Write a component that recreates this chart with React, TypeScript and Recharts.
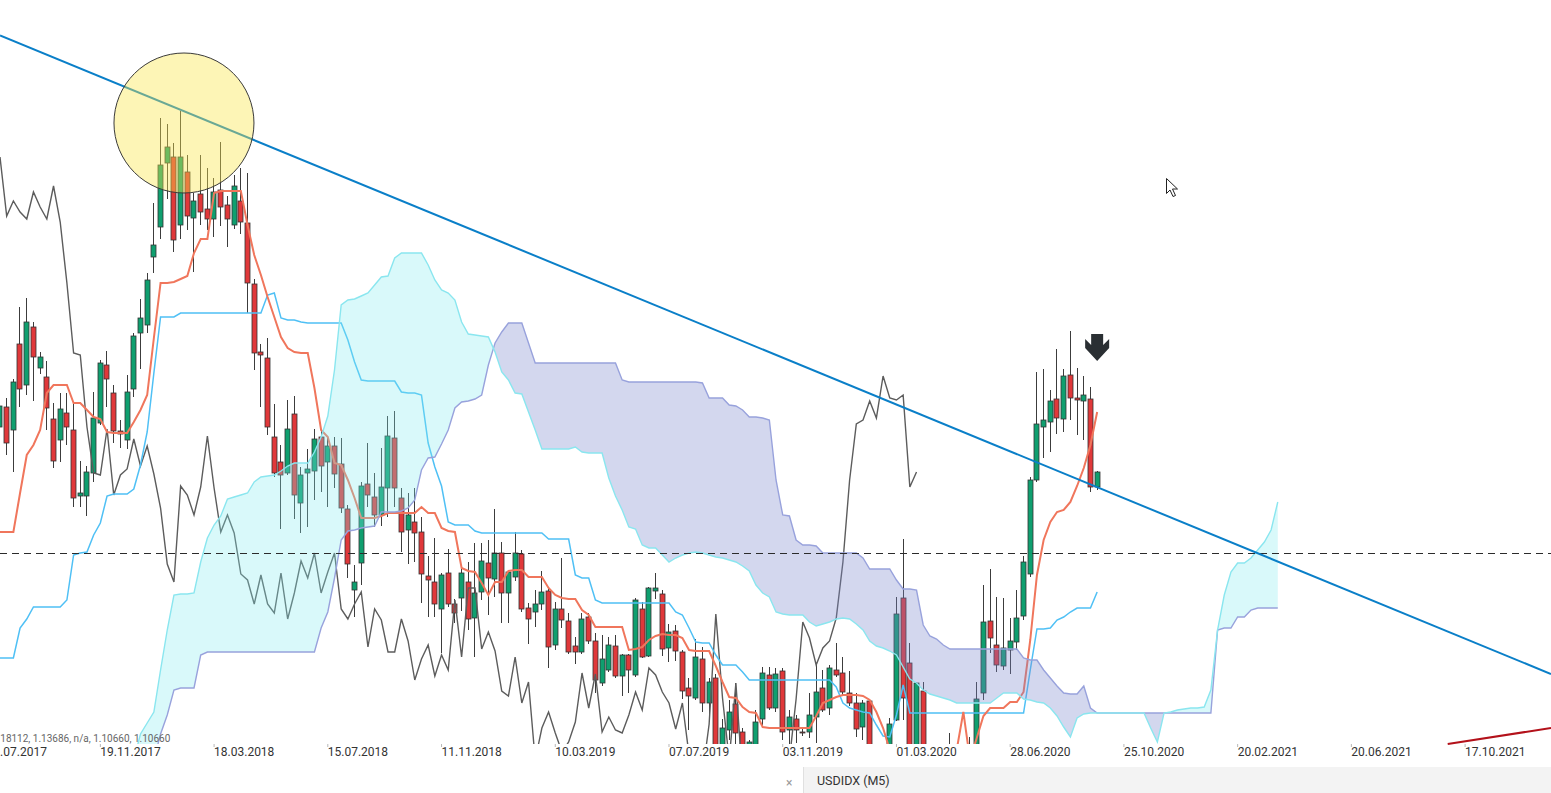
import React from "react";
import {
  ComposedChart,
  Bar,
  Line,
  Area,
  XAxis,
  YAxis,
  ReferenceLine,
  ReferenceDot,
} from "recharts";

// ---------------- data ----------------
// weekly candles [open, high, low, close]; week 0 = 06.08.2017
const OHLC: [number, number, number, number][] = [
  [1.1573, 1.1603, 1.1539, 1.1594], [1.1593, 1.1602, 1.1545, 1.1557], [1.157, 1.1621, 1.1528, 1.1618], [1.1656, 1.1693, 1.1593, 1.1611], [1.1615, 1.1702, 1.1605, 1.1678],
  [1.1673, 1.1678, 1.1599, 1.1643], [1.1632, 1.1648, 1.1626, 1.1643], [1.1623, 1.1639, 1.157, 1.1592], [1.1581, 1.1597, 1.1532, 1.1539], [1.156, 1.1607, 1.1538, 1.1591],
  [1.1587, 1.1607, 1.1555, 1.1573], [1.157, 1.1597, 1.1493, 1.1502], [1.1504, 1.1539, 1.1493, 1.1507], [1.1504, 1.1534, 1.1484, 1.1528], [1.1527, 1.1608, 1.1518, 1.1582],
  [1.1577, 1.164, 1.1575, 1.1637], [1.1635, 1.1649, 1.1593, 1.1621], [1.1607, 1.1615, 1.1557, 1.1569], [1.1569, 1.158, 1.1552, 1.1566], [1.156, 1.1625, 1.1551, 1.1608],
  [1.1611, 1.1667, 1.1603, 1.1664], [1.1667, 1.1701, 1.1631, 1.1682], [1.1675, 1.1727, 1.1667, 1.172], [1.1743, 1.1797, 1.1727, 1.1755], [1.1773, 1.1882, 1.1761, 1.1835],
  [1.1837, 1.1876, 1.1801, 1.1853], [1.1843, 1.1857, 1.1748, 1.176], [1.1775, 1.1889, 1.1761, 1.1843], [1.1828, 1.1845, 1.177, 1.1784], [1.1782, 1.1807, 1.1728, 1.1799],
  [1.1806, 1.1845, 1.1775, 1.1788], [1.1791, 1.1832, 1.177, 1.1781], [1.1781, 1.1822, 1.1763, 1.1808], [1.181, 1.1858, 1.1774, 1.1793], [1.1795, 1.1804, 1.1753, 1.1781],
  [1.1775, 1.1825, 1.1771, 1.1814], [1.1799, 1.1832, 1.1766, 1.1778], [1.1777, 1.1827, 1.1687, 1.1717], [1.1716, 1.1721, 1.163, 1.1647], [1.1648, 1.1656, 1.1593, 1.1645],
  [1.1642, 1.1662, 1.1565, 1.1573], [1.1563, 1.1596, 1.1523, 1.1527], [1.1538, 1.1555, 1.1471, 1.1525], [1.1527, 1.16, 1.1525, 1.1571], [1.1586, 1.1604, 1.1481, 1.1505],
  [1.1497, 1.1533, 1.1467, 1.1525], [1.1527, 1.1551, 1.1473, 1.1531], [1.1529, 1.1571, 1.15, 1.1561], [1.1563, 1.1571, 1.1508, 1.1534], [1.1538, 1.1563, 1.1493, 1.1554],
  [1.1554, 1.1563, 1.1512, 1.1526], [1.1536, 1.1562, 1.1487, 1.1492], [1.1491, 1.1495, 1.1422, 1.1436], [1.141, 1.1435, 1.1383, 1.1418], [1.1437, 1.1518, 1.1415, 1.1514],
  [1.1516, 1.1557, 1.1493, 1.1505], [1.1503, 1.1527, 1.1473, 1.1485], [1.1485, 1.1552, 1.1474, 1.1513], [1.1512, 1.1584, 1.1483, 1.1564], [1.1562, 1.1589, 1.1493, 1.1512],
  [1.1502, 1.1512, 1.1448, 1.1468], [1.147, 1.1507, 1.1436, 1.1485], [1.1478, 1.1512, 1.1438, 1.1467], [1.1468, 1.1483, 1.1397, 1.1426], [1.1424, 1.1444, 1.1383, 1.142],
  [1.1418, 1.1462, 1.1383, 1.1396], [1.1391, 1.1427, 1.1347, 1.1425], [1.1427, 1.1451, 1.1393, 1.1396], [1.1396, 1.1401, 1.1377, 1.1387], [1.1402, 1.1432, 1.1389, 1.1427],
  [1.1418, 1.1438, 1.137, 1.1381], [1.1382, 1.1457, 1.1343, 1.1407], [1.1408, 1.1457, 1.14, 1.1439], [1.1437, 1.146, 1.1385, 1.1422], [1.1421, 1.1491, 1.1403, 1.1447],
  [1.1447, 1.1458, 1.1377, 1.1407], [1.1407, 1.143, 1.1377, 1.1428], [1.1423, 1.1468, 1.1419, 1.1447], [1.1446, 1.145, 1.1388, 1.1391], [1.1392, 1.1397, 1.1356, 1.1381],
  [1.1388, 1.141, 1.1373, 1.1396], [1.1396, 1.1429, 1.139, 1.1408], [1.1409, 1.1413, 1.1332, 1.1353], [1.1355, 1.1398, 1.135, 1.1391], [1.1391, 1.1442, 1.1372, 1.138],
  [1.1379, 1.1387, 1.1346, 1.1348], [1.1354, 1.1363, 1.1336, 1.1348], [1.1348, 1.1387, 1.1346, 1.1381], [1.1383, 1.1387, 1.1356, 1.1359], [1.1359, 1.1367, 1.1307, 1.132],
  [1.1317, 1.1365, 1.1314, 1.1341], [1.133, 1.1363, 1.1328, 1.1355], [1.1354, 1.1365, 1.1322, 1.1324], [1.1324, 1.1346, 1.1304, 1.1345], [1.1345, 1.1346, 1.1307, 1.133],
  [1.1325, 1.1402, 1.1323, 1.14], [1.1391, 1.1398, 1.1342, 1.1343], [1.1344, 1.1413, 1.1343, 1.1412], [1.1409, 1.1427, 1.1401, 1.1412], [1.1406, 1.141, 1.1344, 1.1351],
  [1.1352, 1.1376, 1.1338, 1.1368], [1.1369, 1.1375, 1.1339, 1.1349], [1.1348, 1.135, 1.1301, 1.1309], [1.1312, 1.1322, 1.127, 1.1304], [1.1302, 1.1361, 1.13, 1.1343],
  [1.1341, 1.1353, 1.1288, 1.1297], [1.1297, 1.1322, 1.1282, 1.1318], [1.1322, 1.1326, 1.1225, 1.124], [1.1248, 1.1281, 1.1235, 1.1272], [1.127, 1.13, 1.126, 1.1288],
  [1.1296, 1.1317, 1.1252, 1.1267], [1.1268, 1.1272, 1.1235, 1.1248], [1.1245, 1.126, 1.123, 1.1258], [1.125, 1.129, 1.124, 1.1278], [1.1281, 1.1333, 1.1275, 1.1327],
  [1.1325, 1.1333, 1.129, 1.1292], [1.1292, 1.1332, 1.1288, 1.1326], [1.1329, 1.1332, 1.126, 1.1268], [1.127, 1.129, 1.1252, 1.1283], [1.1281, 1.1285, 1.1257, 1.127],
  [1.1268, 1.1272, 1.1264, 1.1267], [1.1268, 1.1307, 1.1262, 1.1285], [1.1283, 1.1335, 1.1257, 1.1308], [1.1312, 1.133, 1.1288, 1.129], [1.1292, 1.1335, 1.1285, 1.1332],
  [1.133, 1.1357, 1.1323, 1.1325], [1.1327, 1.1343, 1.1304, 1.1308], [1.1307, 1.1329, 1.1294, 1.1297], [1.1297, 1.1307, 1.1263, 1.1271], [1.1273, 1.13, 1.126, 1.1297],
  [1.1299, 1.13, 1.124, 1.1245], [1.123, 1.124, 1.12, 1.1215], [1.121, 1.1235, 1.119, 1.1225], [1.125, 1.1282, 1.124, 1.1276], [1.128, 1.1403, 1.1279, 1.1386],
  [1.1402, 1.1461, 1.128, 1.1302], [1.1337, 1.1357, 1.123, 1.124], [1.124, 1.1318, 1.1225, 1.1317], [1.1309, 1.1318, 1.121, 1.122], [1.122, 1.123, 1.117, 1.119],
  [1.119, 1.121, 1.115, 1.117], [1.117, 1.12, 1.114, 1.12], [1.12, 1.1267, 1.118, 1.121], [1.121, 1.123, 1.118, 1.12], [1.12, 1.123, 1.118, 1.122],
  [1.122, 1.1263, 1.121, 1.124], [1.124, 1.1318, 1.123, 1.1301], [1.1307, 1.1415, 1.13, 1.1378], [1.1379, 1.1431, 1.1347, 1.1362], [1.1355, 1.1403, 1.1328, 1.1335],
  [1.1334, 1.1402, 1.133, 1.1352], [1.135, 1.1382, 1.1326, 1.1359], [1.1358, 1.141, 1.135, 1.1382], [1.1384, 1.1444, 1.138, 1.1438], [1.1426, 1.1523, 1.1423, 1.152],
  [1.152, 1.1628, 1.1518, 1.1576], [1.1573, 1.1631, 1.1542, 1.158], [1.1578, 1.161, 1.1548, 1.1599], [1.1601, 1.1651, 1.1566, 1.1582], [1.1581, 1.1631, 1.1568, 1.1624],
  [1.1625, 1.1669, 1.158, 1.1602], [1.1602, 1.1632, 1.1565, 1.16], [1.1599, 1.1624, 1.156, 1.1605], [1.1601, 1.1613, 1.1508, 1.1513], [1.1513, 1.1529, 1.151, 1.1528],
];

// Tenkan-sen (conversion line), one value per candle
const TENKAN = [
  1.1468, 1.1468, 1.1468, 1.1507, 1.1545, 1.1555, 1.157, 1.1607, 1.1615, 1.1615,
  1.1615, 1.1597, 1.1597, 1.159, 1.1583, 1.1581, 1.1568, 1.1567, 1.1567, 1.1567,
  1.1578, 1.159, 1.1605, 1.1662, 1.1717, 1.1717, 1.1718, 1.1721, 1.1724, 1.1747,
  1.1761, 1.1761, 1.1807, 1.1809, 1.1809, 1.1809, 1.1809, 1.1775, 1.1745, 1.1725,
  1.1703, 1.1683, 1.1663, 1.1652, 1.1648, 1.1647, 1.1647, 1.1612, 1.157, 1.1563,
  1.1537, 1.1535, 1.152, 1.1502, 1.1482, 1.1482, 1.1482, 1.1484, 1.1487, 1.1487,
  1.1487, 1.1487, 1.1487, 1.1493, 1.1487, 1.1487, 1.1472, 1.1469, 1.1468, 1.1432,
  1.1429, 1.1428, 1.1417, 1.1405, 1.1418, 1.1418, 1.1429, 1.143, 1.143, 1.1423,
  1.1423, 1.1423, 1.1412, 1.1405, 1.1402, 1.1401, 1.1401, 1.139, 1.1385, 1.1373,
  1.1373, 1.1373, 1.1373, 1.1373, 1.135, 1.1351, 1.1353, 1.136, 1.1364, 1.1366,
  1.1365, 1.1365, 1.1362, 1.135, 1.1349, 1.1349, 1.1349, 1.1334, 1.1318, 1.1303,
  1.1302, 1.1293, 1.1288, 1.1287, 1.1273, 1.1272, 1.1272, 1.1272, 1.1272, 1.1272,
  1.1272, 1.1272, 1.1284, 1.1297, 1.13, 1.1303, 1.1305, 1.1305, 1.1305, 1.1304,
  1.13, 1.1288, 1.1272, 1.125, 1.123, 1.122, 1.121, 1.12, 1.12, 1.12,
  1.12, 1.121, 1.122, 1.125, 1.1288, 1.124, 1.1262, 1.1284, 1.1292, 1.1292,
  1.1292, 1.1298, 1.1298, 1.1308, 1.136, 1.1425, 1.146, 1.1478, 1.1488, 1.149,
  1.1498, 1.1514, 1.1532, 1.1555, 1.1588,
];

// Kijun-sen (base line)
const KIJUN = [
  1.1342, 1.1342, 1.1342, 1.1372, 1.1381, 1.1393, 1.1393, 1.1393, 1.1393, 1.1393,
  1.14, 1.1445, 1.1447, 1.1448, 1.1465, 1.1477, 1.1504, 1.1506, 1.1506, 1.1506,
  1.1511, 1.1535, 1.1568, 1.1627, 1.1683, 1.1683, 1.1683, 1.1687, 1.1687, 1.1687,
  1.1687, 1.1687, 1.1687, 1.1687, 1.1687, 1.1687, 1.1687, 1.1687, 1.1687, 1.1687,
  1.1705, 1.1707, 1.1682, 1.168, 1.168, 1.1678, 1.1677, 1.1677, 1.1677, 1.1677,
  1.1677, 1.1677, 1.166, 1.1638, 1.162, 1.1619, 1.1619, 1.1619, 1.1619, 1.1619,
  1.1608, 1.1607, 1.1607, 1.1605, 1.1557, 1.1533, 1.1514, 1.1478, 1.1475, 1.1475,
  1.1475, 1.1469, 1.1467, 1.1467, 1.1467, 1.1467, 1.1467, 1.1467, 1.1467, 1.1467,
  1.1467, 1.1467, 1.1461, 1.1461, 1.1461, 1.1461, 1.1425, 1.1422, 1.1422, 1.14,
  1.1397, 1.1397, 1.1397, 1.1397, 1.1397, 1.1397, 1.1397, 1.1397, 1.1397, 1.1397,
  1.1397, 1.1388, 1.1385, 1.1372, 1.1358, 1.1357, 1.1357, 1.1345, 1.1335, 1.1335,
  1.1335, 1.1328, 1.132, 1.132, 1.132, 1.132, 1.132, 1.132, 1.132, 1.132,
  1.132, 1.132, 1.132, 1.132, 1.132, 1.1313, 1.1297, 1.1292, 1.129, 1.1288,
  1.1287, 1.1275, 1.1264, 1.1263, 1.1285, 1.1315, 1.1287, 1.1287, 1.1287, 1.1287,
  1.1287, 1.1287, 1.1287, 1.1287, 1.1287, 1.1287, 1.1287, 1.1287, 1.1287, 1.1287,
  1.1287, 1.1287, 1.1287, 1.1287, 1.133, 1.1371, 1.1371, 1.1372, 1.138, 1.1383,
  1.1388, 1.1392, 1.1392, 1.1392, 1.1408,
];

// Senkou span A, plotted 26 weeks ahead (week 0 .. 191)
const SPAN_A = [
  1.12, 1.12, 1.12, 1.12, 1.12, 1.12, 1.12, 1.12, 1.12, 1.12,
  1.12, 1.12, 1.12, 1.12, 1.12, 1.12, 1.12, 1.12, 1.12, 1.12,
  1.124, 1.1266, 1.1277, 1.1288, 1.133, 1.137, 1.1405, 1.1406, 1.1406, 1.1407,
  1.1438, 1.1462, 1.1475, 1.1484, 1.1501, 1.1503, 1.1505, 1.1507, 1.1518, 1.1523,
  1.1524, 1.1525, 1.1529, 1.1534, 1.1537, 1.1537, 1.1537, 1.1548, 1.1563, 1.1584,
  1.163, 1.1695, 1.17, 1.1701, 1.1704, 1.1707, 1.1715, 1.1723, 1.1724, 1.1742,
  1.1747, 1.1747, 1.1747, 1.1747, 1.1735, 1.172, 1.171, 1.1707, 1.17, 1.1678,
  1.1666, 1.1665, 1.1664, 1.1663, 1.1648, 1.1628, 1.162, 1.1607, 1.1606, 1.1588,
  1.157, 1.1551, 1.1551, 1.1551, 1.1551, 1.1551, 1.1553, 1.1548, 1.1547, 1.1547,
  1.1547, 1.1522, 1.1504, 1.149, 1.1473, 1.1471, 1.1455, 1.1452, 1.1452, 1.1445,
  1.1438, 1.1442, 1.1445, 1.1447, 1.1448, 1.1447, 1.1445, 1.1443, 1.1442, 1.144,
  1.1438, 1.1434, 1.1429, 1.1415, 1.1407, 1.1403, 1.1388, 1.1386, 1.1385, 1.1385,
  1.1385, 1.1378, 1.1374, 1.1376, 1.1378, 1.1381, 1.1382, 1.1381, 1.1376, 1.137,
  1.1359, 1.1354, 1.1352, 1.1349, 1.1345, 1.1333, 1.1321, 1.1317, 1.131, 1.1306,
  1.1304, 1.1302, 1.13, 1.1297, 1.1297, 1.1297, 1.1297, 1.1297, 1.1297, 1.1302,
  1.1307, 1.1307, 1.1307, 1.1301, 1.13, 1.1298, 1.1297, 1.1292, 1.1284, 1.1273,
  1.1263, 1.1282, 1.1286, 1.1287, 1.1287, 1.1287, 1.1287, 1.1287, 1.1287, 1.1287,
  1.1287, 1.1287, 1.1272, 1.1258, 1.1287, 1.1288, 1.129, 1.1291, 1.1292, 1.1292,
  1.1293, 1.131, 1.137, 1.1405, 1.1428, 1.1437, 1.1437, 1.1442, 1.145, 1.1458,
  1.147, 1.1498,
];

// Senkou span B, plotted 26 weeks ahead (week 0 .. 191)
const SPAN_B = [
  1.118, 1.118, 1.118, 1.118, 1.118, 1.118, 1.118, 1.118, 1.118, 1.118,
  1.118, 1.118, 1.118, 1.118, 1.118, 1.118, 1.118, 1.118, 1.118, 1.118,
  1.118, 1.118, 1.118, 1.124, 1.1266, 1.1285, 1.131, 1.1312, 1.1312, 1.1312,
  1.1345, 1.1348, 1.1348, 1.1348, 1.1348, 1.1348, 1.1348, 1.1348, 1.1348, 1.1348,
  1.1348, 1.1348, 1.1348, 1.1348, 1.1348, 1.1348, 1.1348, 1.1348, 1.1372, 1.1388,
  1.1422, 1.146, 1.1469, 1.147, 1.1472, 1.1473, 1.1474, 1.1488, 1.1488, 1.1488,
  1.1489, 1.1492, 1.15, 1.153, 1.1542, 1.1543, 1.1556, 1.157, 1.1592, 1.1598,
  1.1599, 1.1601, 1.1605, 1.1635, 1.1657, 1.1668, 1.1677, 1.1677, 1.1677, 1.1657,
  1.1637, 1.1637, 1.1637, 1.1637, 1.1637, 1.1637, 1.1637, 1.1637, 1.1637, 1.1637,
  1.1637, 1.1637, 1.1637, 1.162, 1.1618, 1.1618, 1.1618, 1.1618, 1.1618, 1.1618,
  1.1618, 1.1618, 1.1618, 1.1618, 1.1618, 1.1617, 1.1602, 1.1602, 1.1602, 1.1595,
  1.1594, 1.159, 1.1583, 1.1583, 1.1582, 1.158, 1.152, 1.1485, 1.1484, 1.146,
  1.1455, 1.1455, 1.1454, 1.1447, 1.1447, 1.1447, 1.1447, 1.1447, 1.1447, 1.1442,
  1.1431, 1.1431, 1.1431, 1.1431, 1.142, 1.1411, 1.1411, 1.141, 1.1375, 1.1364,
  1.1361, 1.1355, 1.1351, 1.1351, 1.1351, 1.1351, 1.1351, 1.1351, 1.1351, 1.1351,
  1.1351, 1.1351, 1.1351, 1.1342, 1.134, 1.134, 1.133, 1.1322, 1.1314, 1.1307,
  1.1306, 1.1306, 1.1314, 1.1292, 1.1287, 1.1287, 1.1287, 1.1287, 1.1287, 1.1287,
  1.1287, 1.1287, 1.1287, 1.1287, 1.1287, 1.1287, 1.1287, 1.1287, 1.1287, 1.1287,
  1.1287, 1.1287, 1.137, 1.1372, 1.1372, 1.1383, 1.1383, 1.139, 1.1392, 1.1392,
  1.1392, 1.1392,
];

const CHIKOU_SHIFT = 27; // lagging span drawn this many weeks back

const TICK_WEEKS = [-2, 15, 32, 49, 66, 83, 100, 117, 134, 151, 168, 185, 202, 219];
const TICK_LABELS = [
  "23.07.2017", "19.11.2017", "18.03.2018", "15.07.2018", "11.11.2018", "10.03.2019", "07.07.2019",
  "03.11.2019", "01.03.2020", "28.06.2020", "25.10.2020", "20.02.2021", "20.06.2021", "17.10.2021",
];

const TREND_LINE = [{ x: 0, y: 1.19645 }, { x: 231.84, y: 1.1326 }];
const RED_LINE = [{ x: 216.4, y: 1.1256 }, { x: 231.84, y: 1.1272 }];
const LEVEL = 1.14465;
const HIGHLIGHT = { x: 27.5, y: 1.1877 };
const SIGNAL = { x: 164, y: 1.1666 };
const INFO_TEXT = "1.18112, 1.13686, n/a, 1.10660, 1.10660";
const SYMBOL = "USDIDX (M5)";

// ---------------- derived tables ----------------
const rows = OHLC.map(([o, h, l, c], i) => ({
  i,
  o,
  h,
  l,
  c,
  range: [l, h],
  tenkan: TENKAN[i],
  kijun: KIJUN[i],
  chikou: i + CHIKOU_SHIFT < OHLC.length ? OHLC[i + CHIKOU_SHIFT][3] : null,
}));

const cloud: any[] = [];
for (let i = 0; i < SPAN_A.length; i++) {
  const a = SPAN_A[i];
  const b = SPAN_B[i];
  if (i > 0) {
    const d0 = SPAN_A[i - 1] - SPAN_B[i - 1];
    const d1 = a - b;
    if (d0 * d1 < 0) {
      const t = d0 / (d0 - d1);
      const v = SPAN_A[i - 1] + t * (a - SPAN_A[i - 1]);
      cloud.push({ i: i - 1 + t, a: v, b: v, up: [v, v], down: [v, v] });
    }
  }
  cloud.push({
    i,
    a,
    b,
    up: a >= b ? [b, a] : null,
    down: a <= b ? [a, b] : null,
  });
}

// ---------------- styles ----------------
const GREEN = "#0f9f6f";
const RED = "#e0383a";
const FONT = "Roboto, 'Noto Sans', sans-serif";

function Candle(props: any) {
  const { x, y, width, height, payload } = props;
  if (!payload || !isFinite(x) || !isFinite(y) || !isFinite(height)) return null;
  const { o, h, l, c } = payload;
  const top = Math.min(y, y + height);
  const hh = Math.abs(height);
  const k = hh / (h - l);
  const py = (v: number) => top + (h - v) * k;
  const cx = Math.floor(x + width / 2) + 0.5;
  const bTop = py(Math.max(o, c));
  const bBot = py(Math.min(o, c));
  const up = c >= o;
  return (
    <g>
      <line x1={cx} x2={cx} y1={top} y2={top + hh} stroke="#3c3c3c" strokeWidth={1} />
      <rect
        x={cx - 2.5}
        y={bTop}
        width={5}
        height={Math.max(1, bBot - bTop)}
        fill={up ? GREEN : RED}
        stroke="#333"
        strokeWidth={0.8}
      />
    </g>
  );
}

function DateTick(props: any) {
  const { x, y, payload } = props;
  const idx = TICK_WEEKS.indexOf(payload.value);
  const label = idx >= 0 ? TICK_LABELS[idx] : "";
  return (
    <g>
      <line x1={x} x2={x} y1={y} y2={y + 3} stroke="#b8b8b8" strokeWidth={1} />
      <text x={x} y={y + 12} textAnchor="start" fontFamily={FONT} fontSize={12} fill="#333">
        {label}
      </text>
    </g>
  );
}

export default function App() {
  return (
    <div
      style={{
        position: "absolute",
        left: 0,
        top: 0,
        width: 1551,
        height: 793,
        overflow: "hidden",
        background: "#fff",
        fontFamily: FONT,
      }}
    >
      <ComposedChart
        width={1551}
        height={770}
        data={rows}
        margin={{ top: 0, right: 0, bottom: 0, left: 0 }}
      >
        <XAxis
          type="number"
          dataKey="i"
          domain={[0, 231.84]}
          allowDataOverflow
          ticks={TICK_WEEKS}
          interval={0}
          tick={<DateTick />}
          tickLine={false}
          axisLine={false}
          tickSize={0}
          tickMargin={0}
          height={26}
        />
        <YAxis type="number" domain={[1.1256, 1.2]} allowDataOverflow hide />

        <Bar
          dataKey="range"
          barSize={5}
          shape={(p: any) => <Candle {...p} />}
          isAnimationActive={false}
          zIndex={100}
        />
        <Line
          dataKey="chikou"
          stroke="#5c5c5c"
          strokeWidth={1.4}
          dot={false}
          activeDot={false}
          isAnimationActive={false}
          type="linear"
          zIndex={200}
        />
        <Line
          dataKey="kijun"
          stroke="#4fc0f5"
          strokeWidth={1.5}
          dot={false}
          activeDot={false}
          isAnimationActive={false}
          type="linear"
          zIndex={210}
        />
        <Line
          dataKey="tenkan"
          stroke="#f0765c"
          strokeWidth={2}
          dot={false}
          activeDot={false}
          isAnimationActive={false}
          type="linear"
          zIndex={220}
        />
        <Area
          data={cloud}
          dataKey="up"
          type="linear"
          stroke="none"
          fill="rgb(130,235,240)"
          fillOpacity={0.3}
          dot={false}
          activeDot={false}
          isAnimationActive={false}
          zIndex={300}
        />
        <Area
          data={cloud}
          dataKey="down"
          type="linear"
          stroke="none"
          fill="#7986cb"
          fillOpacity={0.33}
          dot={false}
          activeDot={false}
          isAnimationActive={false}
          zIndex={301}
        />
        <Line
          data={cloud}
          dataKey="b"
          stroke="#98a2dc"
          strokeWidth={1.4}
          dot={false}
          activeDot={false}
          isAnimationActive={false}
          type="linear"
          zIndex={310}
        />
        <Line
          data={cloud}
          dataKey="a"
          stroke="#8ae6ef"
          strokeWidth={1.4}
          dot={false}
          activeDot={false}
          isAnimationActive={false}
          type="linear"
          zIndex={311}
        />
        <ReferenceLine
          y={LEVEL}
          stroke="#2b2b2b"
          strokeWidth={1}
          strokeDasharray="7 5"
          zIndex={400}
        />
        <ReferenceLine
          segment={TREND_LINE}
          stroke="#0a7fc8"
          strokeWidth={2}
          ifOverflow="visible"
          zIndex={410}
        />
        <ReferenceLine
          segment={RED_LINE}
          stroke="#b3111a"
          strokeWidth={2}
          ifOverflow="visible"
          zIndex={420}
        />
        <ReferenceDot
          x={HIGHLIGHT.x}
          y={HIGHLIGHT.y}
          r={70}
          ifOverflow="visible"
          zIndex={500}
          shape={(p: any) => (
            <circle
              cx={p.cx}
              cy={p.cy}
              r={70}
              fill="rgb(250,230,73)"
              fillOpacity={0.4}
              stroke="#3a3a3a"
              strokeWidth={1}
            />
          )}
        />
        <ReferenceDot
          x={SIGNAL.x}
          y={SIGNAL.y}
          r={1}
          ifOverflow="visible"
          zIndex={510}
          shape={(p: any) => (
            <path
              transform={`translate(${p.cx},${p.cy})`}
              d="M-6,0 H6 V11 L12,5 V14 L0,27 L-12,14 V5 L-6,11 Z"
              fill="#2a2f33"
            />
          )}
        />
      </ComposedChart>

      <svg
        width={20}
        height={24}
        style={{ position: "absolute", left: 1163, top: 176 }}
      >
        <path
          d="M3.5,2.5 L3.5,17.5 L7,14 L10,20.5 L12.5,19.5 L9.5,13 L14.5,13 Z"
          fill="#fff"
          stroke="#222"
          strokeWidth={1}
        />
      </svg>

      <div
        style={{
          position: "absolute",
          left: -8,
          top: 732,
          fontSize: 10,
          lineHeight: "13px",
          color: "#666",
          whiteSpace: "nowrap",
        }}
      >
        {INFO_TEXT}
      </div>

      <div
        style={{
          position: "absolute",
          left: 786,
          top: 775,
          fontSize: 12,
          lineHeight: "16px",
          color: "#9a9a9a",
        }}
      >
        ×
      </div>
      <div
        style={{
          position: "absolute",
          left: 803,
          top: 767,
          width: 748,
          height: 26,
          background: "#f3f3f3",
          borderLeft: "1px solid #e0e0e0",
          boxSizing: "border-box",
          paddingLeft: 13,
          fontSize: 12.5,
          lineHeight: "28px",
          color: "#333",
          whiteSpace: "nowrap",
        }}
      >
        {SYMBOL}
      </div>
    </div>
  );
}
